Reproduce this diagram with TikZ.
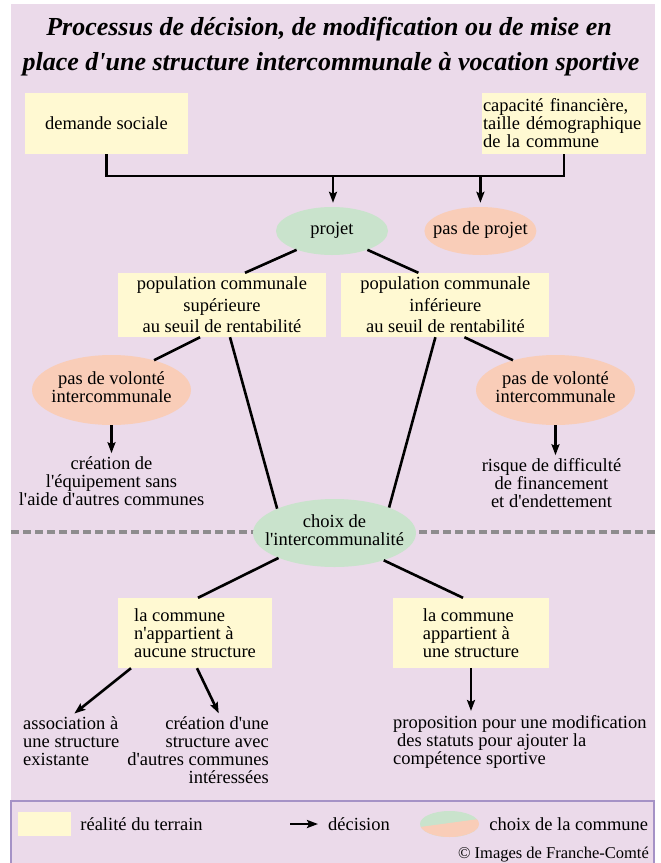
\documentclass[tikz,border=0pt]{standalone}
\usepackage{fontspec}
\setmainfont{Liberation Serif}[Ligatures=TeXOff]
\usetikzlibrary{positioning}
\usetikzlibrary{shapes.geometric}
\usetikzlibrary{calc}
\usetikzlibrary{arrows.meta}

\definecolor{lavande}{HTML}{EBDAEA}
\definecolor{jaunepale}{HTML}{FFF9D2}
\definecolor{vertpale}{HTML}{C9E3CC}
\definecolor{saumon}{HTML}{F9CDB8}
\definecolor{grispointille}{HTML}{8E8C8E}
\definecolor{violetcadre}{HTML}{A592C6}

% texte centre dans une ellipse, sans elargir la forme
\newcommand{\ovale}[1]{\makebox[0pt]{\begin{tabular}{@{}c@{}}#1\end{tabular}}}

\tikzset{
	terrain/.style={rectangle, fill=jaunepale, inner sep=0pt},
	choixoui/.style={ellipse, fill=vertpale, inner sep=0pt},
	choixnon/.style={ellipse, fill=saumon, inner sep=0pt},
	lien/.style={line width=2.6pt},
	decision/.style={line width=2.6pt, -{Stealth[length=11pt, width=8pt, inset=2pt]}},
	titre/.style={font=\bfseries\itshape\fontsize{26}{35}\selectfont, inner sep=0pt},
	pointille/.style={grispointille, line width=4pt, dash pattern=on 8pt off 4pt},
}

\begin{document}
\begin{tikzpicture}[x=1pt, y=-1pt, font=\fontsize{18.5}{18}\selectfont, inner sep=0pt]
	\useasboundingbox (0,0) rectangle (661,863);

	% Fond, separation et cadre de legende
	\fill[lavande] (11,4) rectangle (655,863);
	\draw[pointille] (11,532) -- (655,532);
	\draw[violetcadre, line width=1.2pt] (11,863) -- (11,801) -- (654,801) -- (654,863);

	% Titre
	\node[titre, anchor=base] at (329,35) (titre1) {Processus de décision, de modification ou de mise en};
	\node[titre, anchor=base] at (331,70) (titre2) {place d'une structure intercommunale à vocation sportive};

	% Niveau 1
	\node[terrain, minimum width=163pt, minimum height=61pt] at (106.5,123.5) (demande) {demande sociale};
	\node[terrain, minimum width=164pt, minimum height=61pt, text width=162pt, align=left] at (564,123.5) (capacite) {capacité financière,\\taille démographique\\de la commune};
	\coordinate (fourche) at (333,176);

	% Niveau 2
	\node[choixoui, minimum width=112pt, minimum height=48pt] at (332,231) (projet) {\ovale{projet}};
	\node[choixnon, minimum width=112pt, minimum height=48pt, right=36pt of projet] (pasprojet) {\ovale{pas de projet}};

	% Niveau 3
	\node[terrain, minimum width=208pt, minimum height=64pt, align=center, font=\fontsize{18.5}{21.5}\selectfont] at (222,305) (popsup) {population communale\\supérieure\\au seuil de rentabilité};
	\node[terrain, minimum width=208pt, minimum height=64pt, align=center, font=\fontsize{18.5}{21.5}\selectfont, right=15pt of popsup] (popinf) {population communale\\inférieure\\au seuil de rentabilité};

	% Niveau 4
	\node[choixnon, minimum width=159pt, minimum height=70pt] at (111.5,390) (volonteG) {\ovale{pas de volonté\\intercommunale}};
	\node[choixnon, minimum width=159pt, minimum height=70pt] at (555.5,390) (volonteD) {\ovale{pas de volonté\\intercommunale}};
	\node[align=center, below=31pt of volonteG] (creationseule) {création de\\l'équipement sans\\l'aide d'autres communes};
	\node[align=center, below=33pt of volonteD, xshift=-4pt] (risque) {risque de difficulté\\de financement\\et d'endettement};

	% Niveau 5
	\node[choixoui, minimum width=163pt, minimum height=68pt] at (334.5,533) (choix) {\ovale{choix de\\l'intercommunalité}};

	% Niveau 6
	\node[terrain, minimum width=154pt, minimum height=70pt, align=left] at (195,633) (aucune) {la commune\\n'appartient à\\aucune structure};
	\node[terrain, minimum width=156pt, minimum height=70pt, align=left] at (471,633) (appartient) {la commune\\appartient à\\une structure};

	% Niveau 7
	\node[align=left, anchor=north west] at (23,716) (association) {association à\\une structure\\existante};
	\node[align=right, anchor=north east] at (269,716) (creationstruct) {création d'une\\structure avec\\d'autres communes\\intéressées};
	\node[align=left, anchor=north west] at (393,715) (proposition) {proposition pour une modification\\\hspace*{4pt}des statuts pour ajouter la\\compétence sportive};

	% Connexions
	\draw[lien] (demande.south) |- (fourche) -| (capacite.south);
	\draw[decision, shorten >=4pt] (fourche) -- (fourche |- projet.north);
	\draw[decision, shorten >=4pt] (fourche -| pasprojet.north) -- (pasprojet.north);
	\draw[lien] (projet.208) -- ($(popsup.north)+(23,0)$);
	\draw[lien] (projet.-28) -- ($(popinf.north)+(-27,0)$);
	\draw[lien] ($(popsup.south)+(-22,0)$) -- (volonteG.35);
	\draw[lien] ($(popsup.south)+(8,0)$) -- (choix.157);
	\draw[lien] ($(popinf.south)+(-10,0)$) -- (choix.25);
	\draw[lien] ($(popinf.south)+(19,0)$) -- (volonteD.145);
	\draw[decision, shorten >=3pt] (volonteG.south) -- (volonteG.south |- creationseule.north);
	\draw[decision, shorten >=3pt] (volonteD.south) -- (volonteD.south |- risque.north);
	\draw[lien] (choix.204) -- ($(aucune.north)+(3,0)$);
	\draw[lien] (choix.-29) -- ($(appartient.north)+(-8,0)$);
	\draw[decision, shorten >=4pt] ($(aucune.south)+(-64,0)$) -- (association.north);
	\draw[decision, shorten >=3pt] ($(aucune.south)+(2,0)$) -- ($(creationstruct.north)+(22,0)$);
	\draw[decision, shorten >=4pt] (appartient.south) -- (appartient.south |- proposition.north);

	% Legende
	\node[terrain, minimum width=53pt, minimum height=24pt] at (44.5,824) (legterrain) {};
	\node[right=9pt of legterrain] (legrealite) {réalité du terrain};
	\coordinate (legfleche) at (290,824);
	\node[anchor=west] at (328,824) (legdecision) {décision};
	\draw[decision, shorten >=10pt] (legfleche) -- (legdecision.west);
	\node[ellipse, minimum width=59pt, minimum height=26pt, path picture={
		\fill[vertpale] (path picture bounding box.north west) rectangle (path picture bounding box.south east);
		\fill[saumon] ($(path picture bounding box.west)+(0,3)$) -- ($(path picture bounding box.east)+(0,-5)$) -- (path picture bounding box.south east) -- (path picture bounding box.south west) -- cycle;
	}] at (449.5,824) (legchoix) {};
	\node[right=10pt of legchoix] (legcommune) {choix de la commune};
	\node[anchor=base east, font=\fontsize{16.5}{18}\selectfont] at (649,858) (copyright) {© Images de Franche-Comté};
\end{tikzpicture}
\end{document}
